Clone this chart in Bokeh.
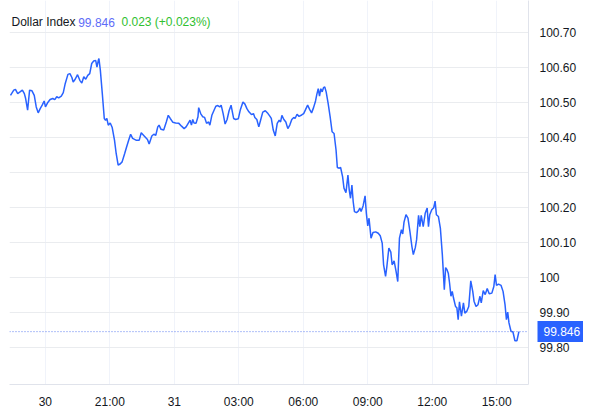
from bokeh.plotting import figure
from bokeh.models import (Range1d, FixedTicker, Span, Label, LinearAxis)
from bokeh.embed import file_html
from bokeh.resources import INLINE

# ---- data (hours relative to day 31 00:00, index value) ----
hours = [
    -7.622, -7.470, -7.392, -7.286, -7.194, -7.069, -6.977, -6.917, -6.825, -6.733,
    -6.622, -6.516, -6.424, -6.332, -6.240, -6.147, -6.055, -5.995, -5.903, -5.779,
    -5.654, -5.562, -5.470, -5.378, -5.258, -5.166, -5.074, -4.949, -4.857, -4.765,
    -4.705, -4.613, -4.502, -4.396, -4.304, -4.212, -4.120, -4.028, -3.935, -3.843,
    -3.751, -3.659, -3.599, -3.535, -3.507, -3.442, -3.350, -3.258, -3.198, -3.138,
    -3.074, -2.982, -2.889, -2.783, -2.705, -2.613, -2.521, -2.429, -2.309, -2.217,
    -2.124, -2.032, -1.940, -1.783, -1.631, -1.539, -1.401, -1.249, -1.171, -1.046,
    -0.954, -0.862, -0.770, -0.710, -0.618, -0.493, -0.373, -0.281, -0.189, -0.065,
    0.060, 0.212, 0.336, 0.456, 0.548, 0.673, 0.733, 0.797, 0.857, 0.917,
    1.009, 1.101, 1.134, 1.226, 1.318, 1.410, 1.502, 1.594, 1.654, 1.747,
    1.839, 1.931, 2.023, 2.115, 2.180, 2.272, 2.364, 2.456, 2.548, 2.641,
    2.700, 2.760, 2.853, 2.977, 3.069, 3.194, 3.286, 3.378, 3.470, 3.590,
    3.682, 3.747, 3.839, 3.931, 4.023, 4.115, 4.235, 4.359, 4.452, 4.512,
    4.604, 4.696, 4.788, 4.880, 4.945, 5.005, 5.097, 5.189, 5.281, 5.373,
    5.465, 5.558, 5.618, 5.710, 5.802, 5.926, 6.018, 6.111, 6.203, 6.295,
    6.387, 6.479, 6.571, 6.631, 6.696, 6.756, 6.816, 6.880, 6.940, 7.000,
    7.065, 7.157, 7.249, 7.341, 7.433, 7.525, 7.585, 7.677, 7.737, 7.829,
    7.894, 7.986, 8.078, 8.138, 8.198, 8.263, 8.323, 8.382, 8.475, 8.567,
    8.631, 8.691, 8.783, 8.876, 8.935, 9.000, 9.060, 9.152, 9.244, 9.369,
    9.488, 9.581, 9.673, 9.737, 9.829, 9.889, 9.982, 10.074, 10.134, 10.226,
    10.318, 10.396, 10.475, 10.567, 10.627, 10.687, 10.779, 10.871, 10.963, 11.055,
    11.120, 11.212, 11.272, 11.364, 11.424, 11.488, 11.581, 11.673, 11.765, 11.825,
    11.885, 11.977, 12.069, 12.134, 12.194, 12.286, 12.378, 12.470, 12.562, 12.622,
    12.687, 12.747, 12.806, 12.871, 12.931, 12.991, 13.083, 13.147, 13.207, 13.267,
    13.359, 13.452, 13.516, 13.608, 13.700, 13.793, 13.885, 13.945, 14.037, 14.129,
    14.221, 14.281, 14.373, 14.465, 14.558, 14.650, 14.774, 14.866, 14.926, 14.991,
    15.083, 15.203, 15.295, 15.387, 15.452, 15.512, 15.571, 15.664, 15.756, 15.848,
    15.940, 16.032,
]
values = [
    100.521, 100.536, 100.538, 100.526, 100.530, 100.536, 100.526, 100.512, 100.479, 100.536,
    100.534, 100.521, 100.488, 100.471, 100.483, 100.493, 100.505, 100.488, 100.499, 100.509,
    100.512, 100.509, 100.517, 100.514, 100.519, 100.529, 100.555, 100.581, 100.583, 100.572,
    100.559, 100.567, 100.580, 100.564, 100.556, 100.574, 100.567, 100.578, 100.583, 100.612,
    100.619, 100.621, 100.602, 100.621, 100.626, 100.593, 100.526, 100.455, 100.450, 100.455,
    100.436, 100.442, 100.429, 100.393, 100.355, 100.322, 100.325, 100.331, 100.355, 100.374,
    100.393, 100.410, 100.398, 100.393, 100.393, 100.414, 100.405, 100.395, 100.382, 100.405,
    100.410, 100.407, 100.431, 100.436, 100.424, 100.422, 100.445, 100.464, 100.455, 100.444,
    100.442, 100.441, 100.433, 100.426, 100.431, 100.444, 100.450, 100.436, 100.452, 100.442,
    100.441, 100.460, 100.486, 100.469, 100.460, 100.458, 100.441, 100.445, 100.436, 100.464,
    100.477, 100.490, 100.492, 100.488, 100.493, 100.469, 100.439, 100.452, 100.477, 100.493,
    100.474, 100.455, 100.452, 100.454, 100.479, 100.502, 100.496, 100.483, 100.474, 100.466,
    100.469, 100.458, 100.452, 100.431, 100.452, 100.473, 100.477, 100.469, 100.461, 100.455,
    100.422, 100.405, 100.441, 100.450, 100.445, 100.464, 100.452, 100.445, 100.426, 100.436,
    100.452, 100.458, 100.455, 100.467, 100.461, 100.465, 100.469, 100.481, 100.493, 100.481,
    100.471, 100.486, 100.505, 100.524, 100.540, 100.519, 100.540, 100.531, 100.543, 100.545,
    100.531, 100.498, 100.460, 100.417, 100.412, 100.365, 100.315, 100.313, 100.315, 100.289,
    100.256, 100.243, 100.293, 100.251, 100.227, 100.265, 100.217, 100.189, 100.186, 100.191,
    100.199, 100.189, 100.205, 100.234, 100.184, 100.148, 100.170, 100.113, 100.129, 100.131,
    100.127, 100.120, 100.099, 100.037, 100.004, 100.032, 100.085, 100.073, 100.037, 100.048,
    100.018, 99.989, 100.113, 100.137, 100.125, 100.159, 100.180, 100.170, 100.132, 100.089,
    100.066, 100.086, 100.108, 100.178, 100.146, 100.178, 100.146, 100.184, 100.199, 100.146,
    100.180, 100.194, 100.200, 100.219, 100.180, 100.175, 100.142, 100.066, 99.966, 100.029,
    100.023, 100.013, 99.985, 99.947, 99.961, 99.942, 99.918, 99.914, 99.880, 99.931,
    99.890, 99.928, 99.899, 99.904, 99.918, 99.991, 99.961, 99.933, 99.918, 99.923,
    99.947, 99.928, 99.963, 99.952, 99.969, 99.954, 99.956, 99.975, 100.009, 99.978,
    99.982, 99.978, 99.961, 99.923, 99.880, 99.902, 99.871, 99.847, 99.845, 99.820,
    99.820, 99.846,
]

x_ticks = [-6, -3, 0, 3, 6, 9, 12, 15]
x_tick_labels = ["30", "21:00", "31", "03:00", "06:00", "09:00", "12:00", "15:00"]
y_ticks = [99.8, 99.9, 100.0, 100.1, 100.2, 100.3, 100.4, 100.5, 100.6, 100.7]
y_tick_labels = ["99.80", "99.90", "100", "100.10", "100.20", "100.30", "100.40",
                 "100.50", "100.60", "100.70"]

title_name = "Dollar Index"
last_price = 99.846
change_text = "0.023 (+0.023%)"

FONT = "Liberation Sans"
TEXT = "#131722"
BLUE = "#2962ff"

x_start, x_end = -7.668, 16.479
y_start, y_end = 99.695, 100.792

p = figure(width=583, height=411, output_backend="svg", toolbar_location=None,
           x_range=Range1d(x_start, x_end), y_range=Range1d(y_start, y_end),
           y_axis_location="right",
           min_border_left=9, min_border_right=50, min_border_top=0, min_border_bottom=26)
p.outline_line_color = None
p.background_fill_color = "white"
p.border_fill_color = "white"

# axes
p.xaxis.ticker = FixedTicker(ticks=x_ticks)
p.xaxis.major_label_overrides = {t: l for t, l in zip(x_ticks, x_tick_labels)}
p.yaxis.ticker = FixedTicker(ticks=y_ticks)
p.yaxis.major_label_overrides = {t: l for t, l in zip(y_ticks, y_tick_labels)}
for ax in (p.xaxis, p.yaxis):
    ax.major_tick_line_color = None
    ax.minor_tick_line_color = None
    ax.axis_line_color = "#e0e3eb"
    ax.major_label_text_font = FONT
    ax.major_label_text_font_size = "12px"
    ax.major_label_text_color = TEXT
p.xaxis.major_label_standoff = 4
p.yaxis.major_label_standoff = 5

# price tag: a second right axis whose single thick tick forms the blue box
price_axis = LinearAxis(ticker=FixedTicker(ticks=[last_price]),
                        major_label_overrides={last_price: f"{last_price:.3f}"},
                        axis_line_color=None, minor_tick_line_color=None,
                        major_tick_line_color=BLUE, major_tick_line_width=21,
                        major_tick_in=42, major_tick_out=6,
                        major_label_standoff=-42,
                        major_label_text_font=FONT, major_label_text_font_size="12px",
                        major_label_text_color="white")
p.add_layout(price_axis, "right")

p.xgrid.grid_line_color = "#f0f3fa"
p.ygrid.grid_line_color = "#eaecef"
p.xgrid.ticker = FixedTicker(ticks=x_ticks)
p.ygrid.ticker = FixedTicker(ticks=y_ticks)

# series
p.line(hours, values, line_color=BLUE, line_width=1.5)

# last price dotted line
p.add_layout(Span(location=last_price, dimension="width", line_color="#5f7ff0",
                  line_dash="1 2", line_width=1))

# legend / title line
p.add_layout(Label(x=x_start, y=y_end, x_offset=2, y_offset=-21.5, text=title_name,
                   text_baseline="middle", text_font=FONT, text_font_size="12px",
                   text_color=TEXT))
p.add_layout(Label(x=x_start, y=y_end, x_offset=68.7, y_offset=-21.5, text=f"{last_price:.3f}",
                   text_baseline="middle", text_font=FONT, text_font_size="12px",
                   text_color="#5d6cf8"))
p.add_layout(Label(x=x_start, y=y_end, x_offset=112, y_offset=-21.5, text=change_text,
                   text_baseline="middle", text_font=FONT, text_font_size="12px",
                   text_color="#30c030"))

open("out.html", "w").write(file_html(p, INLINE))
